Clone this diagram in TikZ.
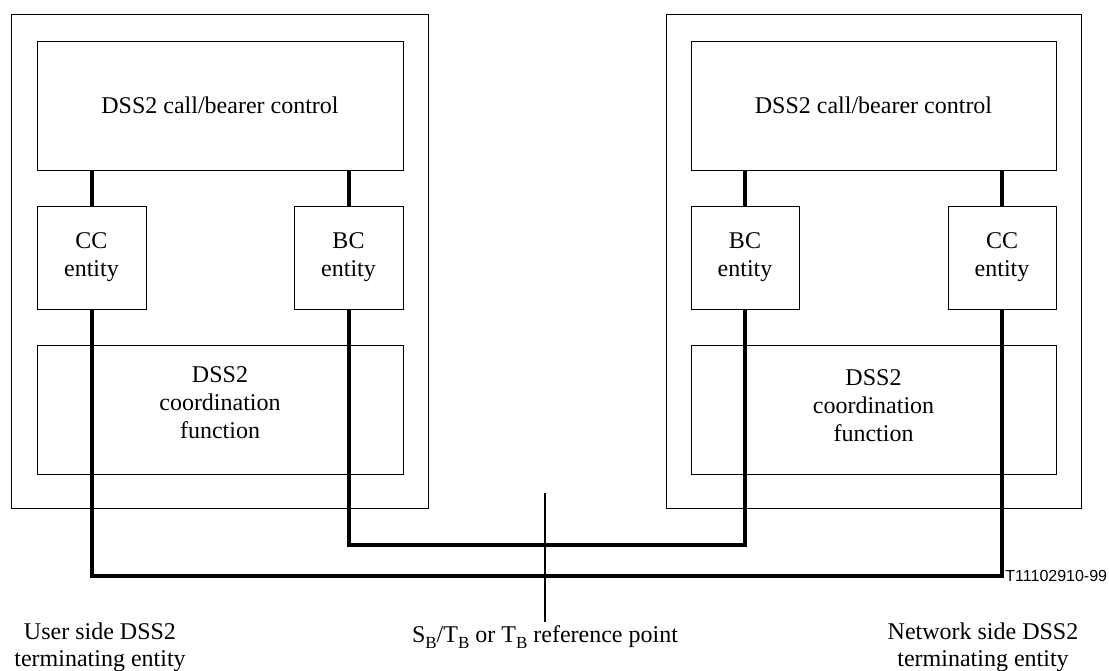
\documentclass[tikz,border=0pt]{standalone}
\usepackage{fontspec}
\setmainfont{Liberation Serif}
\newfontfamily\labelsans{Liberation Sans}
\newcommand{\lowsub}[1]{\raisebox{-3pt}{\fontsize{8.5}{9}\selectfont #1}}
\begin{document}
\begin{tikzpicture}[x=0.5pt,y=-0.5pt,
  box/.style={draw, line width=0.5pt, rectangle, inner sep=0pt, align=center,
    font=\fontsize{12}{14}\selectfont},
  link/.style={line width=2pt},
  refline/.style={line width=0.6pt},
  caption/.style={align=center, font=\fontsize{12}{13.5}\selectfont, inner sep=0pt}]
\useasboundingbox (0,0) rectangle (1109,670);

% outer entities
\node[box, minimum width=208.5pt, minimum height=247pt] (outerL) at (219.5,261) {};
\node[box, minimum width=207.5pt, minimum height=247pt] (outerR) at (873.5,261) {};

% call/bearer control
\node[box, minimum width=183pt, minimum height=64.5pt] (ctrlL) at (220,105.5) {DSS2 call/bearer control};
\node[box, minimum width=182.5pt, minimum height=64.5pt] (ctrlR) at (873.5,105.5) {DSS2 call/bearer control};

% entities
\node[box, minimum width=54.5pt, minimum height=51.5pt] (ccL) at (91.5,257.5) {CC\\entity};
\node[box, minimum width=54.5pt, minimum height=51.5pt] (bcL) at (348.5,257.5) {BC\\entity};
\node[box, minimum width=54pt, minimum height=51.5pt] (bcR) at (745,257.5) {BC\\entity};
\node[box, minimum width=54pt, minimum height=51.5pt] (ccR) at (1002,257.5) {CC\\entity};

% coordination function
\node[box, minimum width=183pt, minimum height=64.5pt] (coordL) at (220,409.5) {};
\node[box, minimum width=182.5pt, minimum height=64.5pt] (coordR) at (873.5,409.5) {};
\node[box, draw=none] (coordLtxt) at (220,403) {DSS2\\coordination\\function};
\node[box, draw=none] (coordRtxt) at (873.5,406) {DSS2\\coordination\\function};

% links between control and entities
\draw[link] (ccL.north |- ctrlL.south) -- (ccL.north);
\draw[link] (bcL.north |- ctrlL.south) -- (bcL.north);
\draw[link] (bcR.north |- ctrlR.south) -- (bcR.north);
\draw[link] (ccR.north |- ctrlR.south) -- (ccR.north);

% links across the reference point
\coordinate (bcjoin) at (545,545);
\coordinate (ccjoin) at (545,576);
\draw[link] (bcL.south) |- (bcjoin) -| (bcR.south);
\draw[link] (ccL.south) |- (ccjoin) -| (ccR.south);

% reference point
\coordinate (reftop) at (545,493);
\node[caption, anchor=north] (ref) at (545,625) {S\lowsub{B}/T\lowsub{B} or T\lowsub{B} reference point};
\draw[refline] (reftop) -- ([yshift=1.5pt]ref.north);

% captions
\node[caption] (userlbl) at (100,647) {User side DSS2\\terminating entity};
\node[caption] (netlbl) at (983,647) {Network side DSS2\\terminating entity};
\node[anchor=west, inner sep=1pt, font=\labelsans\fontsize{8}{9}\selectfont] (tag) at (1003,576) {T11102910-99};
\end{tikzpicture}
\end{document}
